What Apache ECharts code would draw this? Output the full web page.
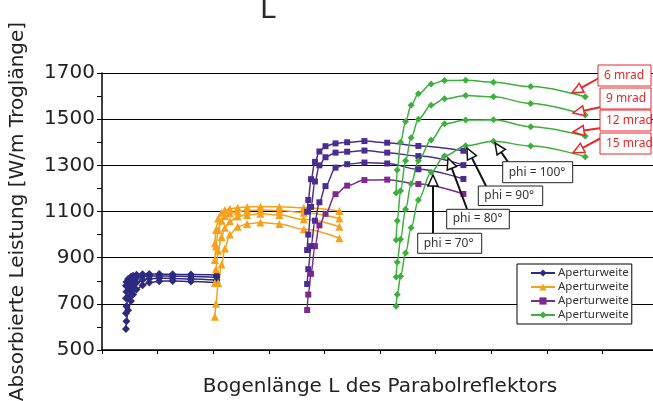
<!DOCTYPE html>
<html><head><meta charset="utf-8">
<script src="https://cdn.jsdelivr.net/npm/echarts@6/dist/echarts.min.js"></script>
<style>html,body{margin:0;padding:0;background:#fff;overflow:hidden}#c{width:653px;height:401px}</style>
</head><body><div id="c"></div>
<script>
// ---- data (x in axis units, one unit per x tick) ----
const groupNames = ['Aperturweite A', 'Aperturweite B', 'Aperturweite C', 'Aperturweite D'];
const legendLabel = 'Aperturweite';
const yTicks = [500, 700, 900, 1100, 1300, 1500, 1700];

const xBlue   = [0.43, 0.44, 0.47, 0.52, 0.56, 0.62, 0.73, 0.85, 1.03, 1.27, 1.60, 2.06];
const xOrange = [2.03, 2.05, 2.09, 2.15, 2.21, 2.30, 2.44, 2.61, 2.85, 3.19, 3.63, 4.27];
const xPurple = [3.69, 3.71, 3.76, 3.83, 3.91, 4.02, 4.20, 4.41, 4.72, 5.13, 5.69, 6.50];
const xGreen  = [5.29, 5.31, 5.37, 5.46, 5.56, 5.69, 5.92, 6.16, 6.54, 7.04, 7.71, 8.69];

const blue6   = [778, 795, 808, 817, 822, 826, 828, 829, 829, 828, 827, 825];
const blue9   = [724, 752, 778, 795, 806, 813, 819, 821, 821, 820, 818, 815];
const blue12  = [659, 690, 730, 760, 778, 792, 803, 809, 811, 810, 808, 803];
const blue15  = [591, 625, 672, 712, 740, 762, 780, 792, 798, 799, 797, 792];

const orange6  = [962, 1020, 1070, 1095, 1106, 1112, 1116, 1120, 1121, 1121, 1116, 1102];
const orange9  = [890, 950, 1020, 1060, 1080, 1092, 1100, 1104, 1106, 1104, 1095, 1070];
const orange12 = [790, 850, 930, 990, 1030, 1058, 1078, 1085, 1090, 1085, 1066, 1034];
const orange15 = [644, 700, 790, 870, 940, 1000, 1034, 1046, 1052, 1046, 1023, 984];

const purple6  = [1099, 1150, 1240, 1315, 1360, 1383, 1395, 1400, 1405, 1398, 1384, 1363];
const purple9  = [933, 1000, 1120, 1230, 1300, 1335, 1355, 1359, 1364, 1355, 1340, 1301];
const purple12 = [786, 850, 950, 1060, 1140, 1210, 1290, 1305, 1312, 1308, 1283, 1241];
const purple15 = [673, 740, 830, 950, 1040, 1090, 1175, 1212, 1236, 1238, 1219, 1176];

const green6  = [1180, 1280, 1400, 1490, 1560, 1610, 1652, 1667, 1669, 1660, 1641, 1597];
const green9  = [976, 1060, 1190, 1320, 1420, 1500, 1560, 1588, 1602, 1597, 1568, 1518];
const green12 = [816, 880, 980, 1110, 1220, 1320, 1410, 1480, 1496, 1497, 1467, 1427];
const green15 = [690, 740, 820, 920, 1030, 1150, 1270, 1340, 1385, 1404, 1384, 1337];

const mradLabels = ['6 mrad', '9 mrad', '12 mrad', '15 mrad'];
const phiLabels = ['phi = 100°', 'phi = 90°', 'phi = 80°', 'phi = 70°'];

// ---- styling ----
const C_BLUE = '#2E2A80', C_ORANGE = '#F7A11A', C_PURPLE = '#7E2A8C', C_INDIGO = '#4B2C8F', C_GREEN = '#3BB03B';

function mk(name, xs, ys, color, symbol, size) {
  return {
    name: name, type: 'line', smooth: 0.35, smoothMonotone: 'x',
    data: xs.map((x, i) => [x, ys[i]]),
    symbol: symbol, symbolSize: size,
    lineStyle: { color: color, width: 1.5 },
    itemStyle: { color: color },
    emphasis: { disabled: true }
  };
}

const series = [
  mk(groupNames[0], xBlue, blue6, C_BLUE, 'diamond', 8),
  mk(groupNames[0], xBlue, blue9, C_BLUE, 'diamond', 8),
  mk(groupNames[0], xBlue, blue12, C_BLUE, 'diamond', 8),
  mk(groupNames[0], xBlue, blue15, C_BLUE, 'diamond', 8),
  mk(groupNames[1], xOrange, orange6, C_ORANGE, 'triangle', 8),
  mk(groupNames[1], xOrange, orange9, C_ORANGE, 'triangle', 8),
  mk(groupNames[1], xOrange, orange12, C_ORANGE, 'triangle', 8),
  mk(groupNames[1], xOrange, orange15, C_ORANGE, 'triangle', 8),
  mk(groupNames[2], xPurple, purple15, C_PURPLE, 'rect', 6),
  mk(groupNames[2], xPurple, purple12, C_INDIGO, 'rect', 6),
  mk(groupNames[2], xPurple, purple9, C_INDIGO, 'rect', 6),
  mk(groupNames[2], xPurple, purple6, C_INDIGO, 'rect', 6),
  mk(groupNames[3], xGreen, green6, C_GREEN, 'diamond', 7),
  mk(groupNames[3], xGreen, green9, C_GREEN, 'diamond', 7),
  mk(groupNames[3], xGreen, green12, C_GREEN, 'diamond', 7),
  mk(groupNames[3], xGreen, green15, C_GREEN, 'diamond', 7)
];

// ---- annotations (pixel layout) ----
const gfx = [];
function arrow(x1, y1, x2, y2, c) {
  const a = Math.atan2(y2 - y1, x2 - x1), L = 11, W = 5;
  const bx = x2 - L * Math.cos(a), by = y2 - L * Math.sin(a);
  const px = -Math.sin(a) * W, py = Math.cos(a) * W;
  gfx.push({ type: 'line', z: 100, shape: { x1: x1, y1: y1, x2: bx, y2: by }, style: { stroke: c, lineWidth: 2 } });
  gfx.push({ type: 'polygon', z: 101, shape: { points: [[x2, y2], [bx + px, by + py], [bx - px, by - py]] }, style: { fill: '#fff', stroke: c, lineWidth: 1.5 } });
}
function box(x, y, w, h, text, c, tc, fs) {
  gfx.push({ type: 'rect', z: 102, shape: { x: x, y: y, width: w, height: h }, style: { fill: '#fff', stroke: c, lineWidth: 1 } });
  gfx.push({ type: 'text', z: 103, x: x + 6, y: y + h / 2, style: { text: text, fill: tc, font: fs + 'px "Noto Sans"', textVerticalAlign: 'middle' } });
}
// red mrad boxes
const redBoxes = [[598, 65, 78, 572, 93], [600, 88, 107, 573, 113], [600, 110, 128, 573, 132], [600, 133, 138, 573, 153]];
redBoxes.forEach((b, i) => { arrow(b[0] + 1, b[2], b[3], b[4], '#E8262A'); box(b[0], b[1], 651 - b[0], 21, mradLabels[i], '#E8262A', '#E8262A', 12); });
// phi boxes
const phiBoxes = [[502.7, 161.7, 70, 21, 508, 162, 495, 143], [478.3, 186, 64.4, 19.5, 486, 186, 467, 148],
                  [446.7, 209.3, 62.6, 19.5, 467, 209, 448, 158], [417.7, 233.3, 64, 20, 433, 233, 433, 175]];
phiBoxes.forEach((b, i) => { arrow(b[4], b[5], b[6], b[7], '#111'); box(b[0], b[1], b[2], b[3], phiLabels[i], '#222', '#333', 12); });
// clipped title remnant
gfx.push({ type: 'text', left: 260, top: -3, z: 10, style: { text: 'L', fill: '#2a2a2a', font: '28px "DejaVu Sans"' } });

const chart = echarts.init(document.getElementById('c'), null, { renderer: 'canvas' });
chart.setOption({
  animation: false,
  backgroundColor: '#fff',
  grid: { left: 102, top: 73, width: 556, height: 277, containLabel: false, outerBoundsMode: 'none' },
  xAxis: {
    type: 'value', min: 0, max: 10, interval: 1,
    axisLine: { show: true, onZero: false, lineStyle: { color: '#000', width: 1.5 } },
    axisTick: { show: true, length: 4, lineStyle: { color: '#000' } },
    axisLabel: { show: false }, splitLine: { show: false },
    name: 'Bogenlänge L des Parabolreflektors', nameLocation: 'middle', nameGap: 27,
    nameTextStyle: { fontFamily: 'DejaVu Sans', fontSize: 20, color: '#222' }
  },
  yAxis: {
    type: 'value', min: yTicks[0], max: yTicks[yTicks.length - 1], interval: 200,
    axisLine: { show: true, lineStyle: { color: '#000', width: 1.5 } },
    axisTick: { show: true, length: 5, lineStyle: { color: '#000' } },
    minorTick: { show: true, splitNumber: 2, length: 5, lineStyle: { color: '#000' } },
    axisLabel: { fontFamily: 'DejaVu Sans', fontSize: 20, color: '#222', margin: 7, formatter: function (v) { return String(v); } },
    splitLine: { show: true, lineStyle: { color: '#000', width: 1 } },
    name: 'Absorbierte Leistung [W/m Troglänge]', nameLocation: 'middle', nameGap: 74, nameRotate: 90,
    nameTextStyle: { fontFamily: 'DejaVu Sans', fontSize: 20, color: '#222' }
  },
  legend: {
    data: groupNames, orient: 'vertical', left: 517, top: 264,
    formatter: function () { return legendLabel; },
    backgroundColor: '#fff', borderColor: '#000', borderWidth: 1,
    padding: [3, 3, 3, 13], itemGap: 2, itemWidth: 24, itemHeight: 9,
    textStyle: { fontFamily: 'Noto Sans', fontSize: 11.5, color: '#333', padding: [0, 0, 0, -2] },
    selectedMode: false, z: 50
  },
  series: series,
  graphic: gfx
});
</script></body></html>
